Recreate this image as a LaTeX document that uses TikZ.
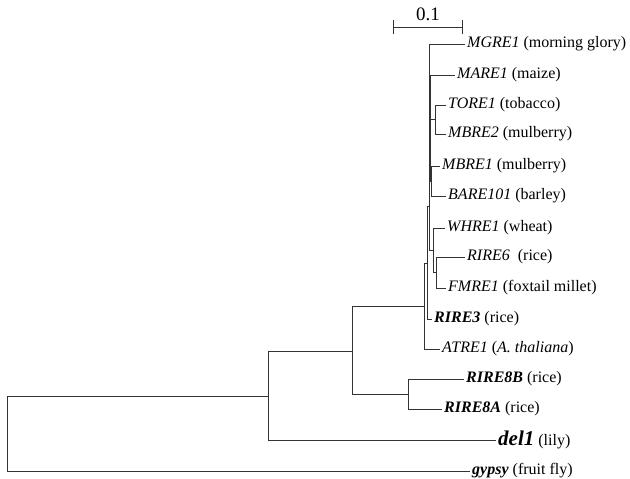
\documentclass[tikz,border=0pt]{standalone}
\usepackage{fontspec}
\setmainfont{Liberation Serif}
\usepackage{tikz}
\usetikzlibrary{arrows.meta}

\begin{document}
\begin{tikzpicture}
    [ x = 1pt, y = -1pt
    , branch/.style =
      { draw, black!80, line width = .8pt }
    , leaf/.style =
      { anchor = west, inner xsep = 2pt, inner ysep = 0pt
      , font = \fontsize{16}{18}\selectfont }
    ]
    \useasboundingbox (0,0) rectangle (630,479);

    % scale bar
    \coordinate (sbl) at (393,27);
    \coordinate (sbr) at (463,27);
    \draw [branch, {Bar[width=14pt]}-{Bar[width=14pt]}] (sbl) -- (sbr);
    \node [font=\fontsize{19}{21}\selectfont, inner sep=0pt] (scalelbl) at (428,14) {0.1};

    % inner nodes
    \coordinate (c1) at (7,433);
    \coordinate (c2) at (268,396);
    \coordinate (c3) at (352,351);
    \coordinate (c5) at (408,394);
    \coordinate (c4) at (424,306);
    \coordinate (c6) at (427,263);
    \coordinate (c7) at (429,206);
    \coordinate (c9) at (433,250);
    \coordinate (c10) at (436,272);
    \coordinate (c8) at (429.5,80);
    \coordinate (c11) at (430,112);
    \coordinate (c12) at (430.5,150);
    \coordinate (c13) at (435,119);
    \coordinate (c14) at (431,181);

    % leaves
    \node [leaf] (mgre1) at (465,44) {\textit{MGRE1} (morning glory)};
    \node [leaf] (mare1) at (455,75) {\textit{MARE1} (maize)};
    \node [leaf] (tore1) at (446,105) {\textit{TORE1} (tobacco)};
    \node [leaf] (mbre2) at (446,134) {\textit{MBRE2} (mulberry)};
    \node [leaf] (mbre1) at (440,166) {\textit{MBRE1} (mulberry)};
    \node [leaf] (bare101) at (446,196) {\textit{BARE101} (barley)};
    \node [leaf] (whre1) at (445,228) {\textit{WHRE1} (wheat)};
    \node [leaf] (rire6) at (465,257) {\textit{RIRE6}\ \ (rice)};
    \node [leaf] (fmre1) at (446,288) {\textit{FMRE1} (foxtail millet)};
    \node [leaf] (rire3) at (432,319) {\textbf{\textit{RIRE3}} (rice)};
    \node [leaf] (atre1) at (440,349) {\textit{ATRE1} (\textit{A. thaliana})};
    \node [leaf] (rire8b) at (464,379) {\textbf{\textit{RIRE8B}} (rice)};
    \node [leaf] (rire8a) at (442,409) {\textbf{\textit{RIRE8A}} (rice)};
    \node [leaf] (del1) at (496,440) {{\fontsize{21}{22}\selectfont\bfseries\itshape del1} (lily)};
    \node [leaf] (gypsy) at (470,471) {\textbf{\textit{gypsy}} (fruit fly)};

    \draw [branch] (c1) |- (c2);
    \draw [branch] (c1) |- (gypsy);
    \draw [branch] (c2) |- (c3);
    \draw [branch] (c2) |- (del1);
    \draw [branch] (c3) |- (c4);
    \draw [branch] (c3) |- (c5);
    \draw [branch] (c5) |- (rire8b);
    \draw [branch] (c5) |- (rire8a);
    \draw [branch] (c4) |- (c6);
    \draw [branch] (c4) |- (atre1);
    \draw [branch] (c6) |- (c7);
    \draw [branch] (c6) |- (rire3);
    \draw [branch] (c7) |- (c8);
    \draw [branch] (c7) |- (c9);
    \draw [branch] (c9) |- (whre1);
    \draw [branch] (c9) |- (c10);
    \draw [branch] (c10) |- (rire6);
    \draw [branch] (c10) |- (fmre1);
    \draw [branch] (c8) |- (mgre1);
    \draw [branch] (c8) |- (c11);
    \draw [branch] (c11) |- (mare1);
    \draw [branch] (c11) |- (c12);
    \draw [branch] (c12) |- (c13);
    \draw [branch] (c12) |- (c14);
    \draw [branch] (c13) |- (tore1);
    \draw [branch] (c13) |- (mbre2);
    \draw [branch] (c14) |- (mbre1);
    \draw [branch] (c14) |- (bare101);
  \end{tikzpicture}
\end{document}
